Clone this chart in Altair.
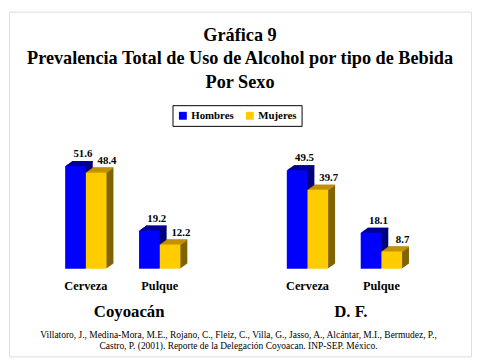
import altair as alt
import pandas as pd

# ---- data ----
regions = ["Coyoacán", "D. F."]
drinks = ["Cerveza", "Pulque"]
sexes = ["Hombres", "Mujeres"]
hombres = [51.6, 19.2, 49.5, 18.1]   # Coyoacán-Cerveza, Coyoacán-Pulque, DF-Cerveza, DF-Pulque
mujeres = [48.4, 12.2, 39.7, 8.7]
title_lines = ["Gráfica 9",
               "Prevalencia Total de Uso de Alcohol por tipo de Bebida",
               "Por Sexo"]
citation = ["Villatoro, J., Medina-Mora, M.E., Rojano, C., Fleiz, C., Villa, G., Jasso, A., Alcántar, M.I., Bermudez, P.,",
            "Castro, P. (2001). Reporte de la Delegación Coyoacan. INP-SEP. México."]

# ---- tables ----
keys = [f"{r}|{d}" for r in regions for d in drinks]
rows = []
for k, h, m in zip(keys, hombres, mujeres):
    r, d = k.split("|")
    rows.append({"cat": k, "region": r, "drink": d, "sex": "Hombres", "value": h})
    rows.append({"cat": k, "region": r, "drink": d, "sex": "Mujeres", "value": m})
df = pd.DataFrame(rows)
cats = pd.DataFrame({"cat": keys, "drink": [k.split("|")[1] for k in keys]})
regs = pd.DataFrame({"cat": [f"{r}|Cerveza" for r in regions], "region": regions})
cite = pd.DataFrame({"t": [citation]})

x_domain = keys[:2] + ["_gap"] + keys[2:]
xscale = alt.Scale(domain=x_domain, paddingInner=0.44, paddingOuter=0.8467, align=0.449)
yscale = alt.Scale(domain=[-44.06, 129.2], zero=False, nice=False)
X = alt.X("cat:N", scale=xscale, axis=None)
Y = alt.Y("value:Q", scale=yscale, axis=None)

FONT = "'Liberation Serif', 'Times New Roman', Times, serif"
BAR_W = 21
DEPTH_STEPS = 7
DX = 1.0
DY = 5.0 / 7

front_col = {"Hombres": "#0000FF", "Mujeres": "#FFCC00"}
top_col = {"Hombres": "#00009C", "Mujeres": "#C89600"}
side_col = {"Hombres": "#00007A", "Mujeres": "#7F6300"}
shift = {"Hombres": -BAR_W / 2, "Mujeres": BAR_W / 2}
label_dx = {"Hombres": -3, "Mujeres": 21.5}

color = alt.Color(
    "sex:N",
    scale=alt.Scale(domain=sexes, range=[front_col[s] for s in sexes]),
    legend=alt.Legend(
        orient="none", legendX=166, legendY=95, direction="horizontal", title=None,
        symbolType="square", symbolSize=64, symbolStrokeWidth=0,
        labelFont=FONT, labelFontWeight="bold", labelFontSize=11, labelColor="black",
        padding=5, strokeColor="black", fillColor="white", columnPadding=10, labelOffset=3,
    ),
)

layers = []
for s in sexes:
    base = alt.Chart(df).transform_filter(alt.datum.sex == s)
    # side extrusion
    for i in range(1, DEPTH_STEPS + 1):
        layers.append(base.mark_bar(width=BAR_W, xOffset=shift[s] + i * DX,
                                    yOffset=-i * DY, y2Offset=-i * DY,
                                    color=side_col[s]).encode(x=X, y=Y, y2=alt.datum(0)))
    # top face
    for i in range(1, DEPTH_STEPS + 1):
        layers.append(base.mark_bar(width=BAR_W, xOffset=shift[s] + i * DX,
                                    yOffset=-i * DY, y2Offset=-i * DY + 1.0,
                                    color=top_col[s]).encode(x=X, y=Y, y2=alt.Y2("value:Q")))
    # front face
    layers.append(base.mark_bar(width=BAR_W, xOffset=shift[s]).encode(x=X, y=Y, y2=alt.datum(0), color=color))

for s in sexes:
    layers.append(alt.Chart(df).transform_filter(alt.datum.sex == s).mark_text(
        font=FONT, fontWeight="bold", fontSize=11, color="black",
        baseline="alphabetic", align="center", xOffset=label_dx[s], yOffset=-9,
    ).encode(x=X, y=Y, text=alt.Text("value:Q", format=".1f")))

layers.append(alt.Chart(cats).mark_text(
    font=FONT, fontWeight="bold", fontSize=12.5, color="black", baseline="middle"
).encode(x=X, y=alt.value(279), text="drink:N"))

layers.append(alt.Chart(regs).mark_text(
    font=FONT, fontWeight="bold", fontSize=17, color="black", baseline="middle", xOffset=44
).encode(x=X, y=alt.value(305), text="region:N"))

layers.append(alt.Chart(cite).mark_text(
    font=FONT, fontSize=9.6, color="black", baseline="alphabetic", lineHeight=11
).encode(x=alt.value(233), y=alt.value(331), text="t"))

chart = alt.layer(*layers).properties(
    width=469, height=350,
    autosize=alt.AutoSizeParams(type="none"),
    padding={"left": 1, "top": 1, "right": 1, "bottom": 1},
    title=alt.Title(title_lines, font=FONT, fontSize=18.5, fontWeight="bold",
                    color="black", anchor="middle", lineHeight=24, offset=-81),
).configure_view(stroke="#0000FF", strokeWidth=2).configure(background="white")

chart.save("out.html", embed_options={"renderer": "svg", "actions": False})
